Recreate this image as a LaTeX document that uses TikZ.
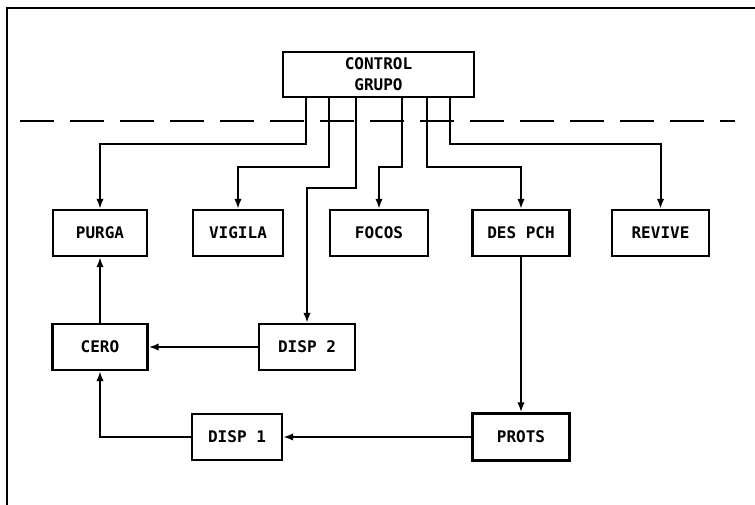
\documentclass[tikz,border=0pt]{standalone}
\usepackage{fontspec}
\setmonofont{DejaVu Sans Mono}
\usepackage{tikz}
\usetikzlibrary{arrows.meta,positioning}

\begin{document}
\begin{tikzpicture}[
x=1pt, y=-1pt,
block/.style={draw, line width=2.4pt, minimum width=95pt, minimum height=46pt, inner sep=0pt, align=center, font=\ttfamily\bfseries\fontsize{16}{21}\selectfont},
arrow/.style={-{Latex[length=10pt,width=7.5pt]}, line width=2pt},
]
\useasboundingbox (0,0) rectangle (755,505);
\draw[line width=2.2pt] (755,8) -- (7,8) -- (7,505);
\draw[line width=2.2pt, dash pattern=on 34pt off 16pt] (20,121) -- (735,121);
\node[block, minimum width=191pt, minimum height=45pt] (ctrl) at (378.5,74.5) {CONTROL\\GRUPO};
\node[block, minimum width=94pt] (purga) at (100,233) {PURGA};
\node[block, minimum width=90pt] (vigila) at (238,233) {VIGILA};
\node[block, minimum width=98pt] (focos) at (379,233) {FOCOS};
\node[block, minimum width=97pt] (despch) at (521,233) {DES PCH};
\node[block, minimum width=97pt] (revive) at (660.5,233) {REVIVE};
\node[block] (cero) at (100,347) {CERO};
\node[block, minimum width=96pt] (disp2) at (307,347) {DISP 2};
\node[block, minimum width=90pt] (disp1) at (237,437) {DISP 1};
\node[block, minimum width=97pt, minimum height=47pt] (prots) at (521,437) {PROTS};
\draw[arrow] ([xshift=-72.5pt]ctrl.south) -- ++(0,46) -| (purga);
\draw[arrow] ([xshift=-49.5pt]ctrl.south) -- ++(0,69) -| (vigila);
\draw[arrow] ([xshift=-22.5pt]ctrl.south) -- ++(0,90) -| (disp2);
\draw[arrow] ([xshift=23.5pt]ctrl.south) -- ++(0,69) -| (focos);
\draw[arrow] ([xshift=48.5pt]ctrl.south) -- ++(0,69) -| (despch);
\draw[arrow] ([xshift=71.5pt]ctrl.south) -- ++(0,46) -| (revive);
\draw[arrow] (despch) -- (prots);
\draw[arrow] (prots) -- (disp1);
\draw[arrow] (disp1) -| (cero);
\draw[arrow] (disp2) -- (cero);
\draw[arrow] (cero) -- (purga);
\end{tikzpicture}
\end{document}
